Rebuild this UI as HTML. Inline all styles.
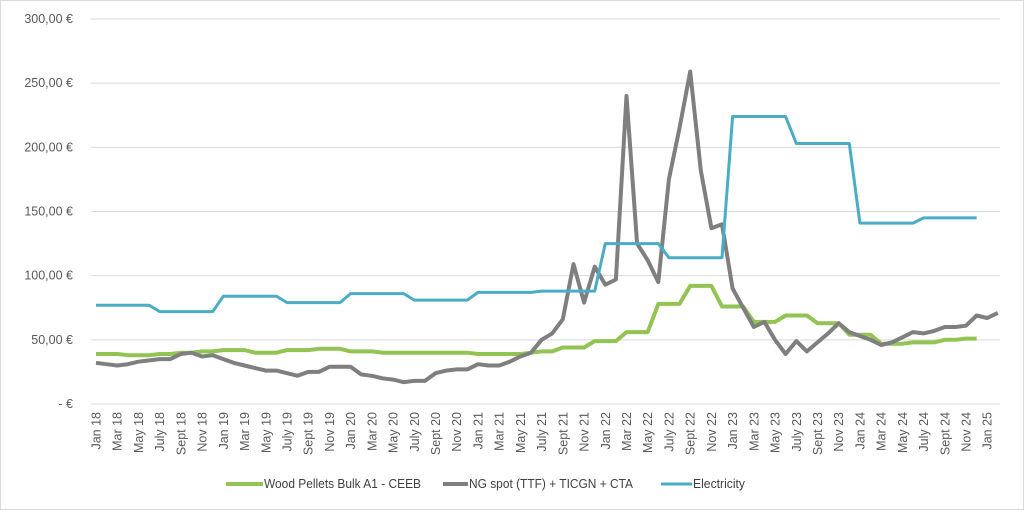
<!DOCTYPE html>
<html><head><meta charset="utf-8"><style>
body{margin:0;background:#fff}
svg{display:block;font-family:"Liberation Sans",sans-serif}
</style></head><body>
<svg id="s" width="1024" height="510" xmlns="http://www.w3.org/2000/svg">
<rect x="0.5" y="0.5" width="1023" height="509" fill="#fff" stroke="#d9d9d9"/>
<g id="grid" stroke="#d9d9d9" stroke-width="1"></g>
<g id="yl" fill="#595959" font-size="12.5" text-anchor="end"></g>
<g id="xl" fill="#595959" font-size="12.5" text-anchor="end"></g>
<g id="lines" fill="none" stroke-linejoin="round"></g>
<g font-size="12.5" fill="#404040">
<line x1="226" y1="484" x2="263" y2="484" stroke="#92C353" stroke-width="4"/>
<text x="264" y="488" textLength="157" lengthAdjust="spacingAndGlyphs">Wood Pellets Bulk A1 - CEEB</text>
<line x1="443" y1="484" x2="468" y2="484" stroke="#7F7F7F" stroke-width="4"/>
<text x="469" y="488" textLength="164" lengthAdjust="spacingAndGlyphs">NG spot (TTF) + TICGN + CTA</text>
<line x1="661" y1="484" x2="692" y2="484" stroke="#4BACC6" stroke-width="3"/>
<text x="693" y="488" textLength="52" lengthAdjust="spacingAndGlyphs">Electricity</text>
</g>
</svg>
<script>
var NS="http://www.w3.org/2000/svg";
function el(p,t,a,txt){var e=document.createElementNS(NS,t);for(var k in a)e.setAttribute(k,a[k]);if(txt!=null)e.textContent=txt;document.getElementById(p).appendChild(e);}
function Y(v){return 404-v*1.2833;}
function X(i){return 96+10.61*i;}
var yt=["-  €","50,00 €","100,00 €","150,00 €","200,00 €","250,00 €","300,00 €"];
for(var k=0;k<=6;k++){var y=Y(k*50);el("grid","line",{x1:91,x2:1000,y1:y,y2:y});el("yl","text",{x:73,y:y+4},yt[k]);}
var mn=["Jan","Mar","May","July","Sept","Nov"];
for(var i=0;i<=84;i+=2){var m=(i%12)/2,yr=18+Math.floor(i/12);var x=X(i)+4.5;el("xl","text",{x:0,y:0,transform:"translate("+x+",412) rotate(-90)"},mn[m]+" "+yr);}
function rep(v,n){var a=[];for(var i=0;i<n;i++)a.push(v);return a;}
var blue=[].concat(rep(77,6),rep(72,6),rep(84,6),rep(79,6),rep(86,6),rep(81,6),rep(87,6),rep(88,6),rep(125,6),rep(114,6),rep(224,6),rep(203,6),rep(141,6),rep(145,6));
var green=[39,39,39,38,38,38,39,39,40,40,41,41,42,42,42,40,40,40,42,42,42,43,43,43,41,41,41,40,40,40,40,40,40,40,40,40,39,39,39,39,39,40,41,41,44,44,44,49,49,49,56,56,56,78,78,78,92,92,92,76,76,76,64,64,64,69,69,69,63,63,63,54,54,54,47,47,47,48,48,48,50,50,51,51];
var gray=[32,31,30,31,33,34,35,35,39,40,37,38, 35,32,30,28,26,26,24,22,25,25,29,29, 29,23,22,20,19,17,18,18,24,26,27,27, 31,30,30,33,37,40,50,55,66,109,79, 107,93,97,240,125,112,95,175,215,259,182,137,140, 90,75,60,64,50,39,49,41,48,55,63,56, 53,50,46,48,52,56,55,57,60,60,61,69,67,71];
function pts(a){return a.map(function(v,i){return X(i).toFixed(1)+","+Y(v).toFixed(1);}).join(" ");}
el("lines","polyline",{points:pts(green),stroke:"#92C353","stroke-width":4});
el("lines","polyline",{points:pts(gray),stroke:"#7F7F7F","stroke-width":4});
el("lines","polyline",{points:pts(blue),stroke:"#4BACC6","stroke-width":3});
</script>
</body></html>
